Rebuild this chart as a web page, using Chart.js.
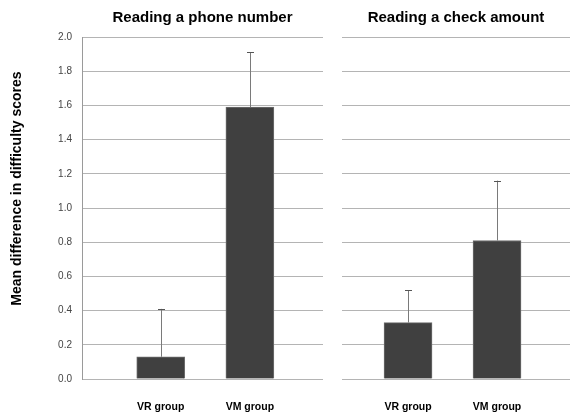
<!DOCTYPE html>
<html>
<head>
<meta charset="utf-8">
<script src="https://cdn.jsdelivr.net/npm/chart.js@4/dist/chart.umd.min.js"></script>
<style>
  body { margin: 0; background: #fff; }
  #wrap { position: relative; width: 570px; height: 414px; overflow: hidden; }
  canvas { position: absolute; top: 0; }
</style>
</head>
<body>
<div id="wrap">
  <canvas id="phoneChart" width="330" height="414" style="left:0"></canvas>
  <canvas id="checkChart" width="240" height="414" style="left:330px"></canvas>
</div>
<script>
// groups on the x axis, same for both panels
const groups = ['VR group', 'VM group'];

// mean difference in difficulty scores, with upward error bars
const phoneMeans = [0.13, 1.59];
const phoneErrors = [0.28, 0.32];
const checkMeans = [0.33, 0.81];
const checkErrors = [0.19, 0.35];

const yTicks = [0, 0.2, 0.4, 0.6, 0.8, 1.0, 1.2, 1.4, 1.6, 1.8, 2.0];

const FONT = 'Liberation Sans, Arial, sans-serif';

// draws a one-sided (upper) error bar on top of each bar
const errorBarPlugin = {
    id: 'errorBars',
    afterDatasetsDraw(chart, args, opts) {
        const ctx = chart.ctx;
        const yScale = chart.scales.y;
        const meta = chart.getDatasetMeta(0);
        const values = chart.data.datasets[0].data;
        meta.data.forEach((bar, i) => {
            const top = yScale.getPixelForValue(values[i].y + opts.errors[i]);
            ctx.save();
            ctx.strokeStyle = '#7a7a7a';
            ctx.lineWidth = 1;
            ctx.beginPath();
            ctx.moveTo(Math.round(bar.x) + 0.5, bar.y);
            ctx.lineTo(Math.round(bar.x) + 0.5, top);
            ctx.stroke();
            ctx.strokeStyle = '#555';
            ctx.beginPath();
            ctx.moveTo(Math.round(bar.x) - 3, Math.round(top) + 0.5);
            ctx.lineTo(Math.round(bar.x) + 4, Math.round(top) + 0.5);
            ctx.stroke();
            ctx.restore();
        });
    }
};

function buildPanel(canvasId, title, means, errors, xMin, withAxis) {
    return new Chart(document.getElementById(canvasId), {
        type: 'bar',
        data: {
            datasets: [{
                data: means.map((v, i) => ({ x: i + 1, y: v })),
                backgroundColor: '#404040',
                borderColor: '#6e6e6e',
                borderWidth: 1,
                barThickness: 48
            }]
        },
        plugins: [errorBarPlugin],
        options: {
            responsive: false,
            animation: false,
            layout: {
                padding: { left: withAxis ? 5 : 12, right: withAxis ? 7 : 0, top: 0, bottom: 0 }
            },
            plugins: {
                legend: { display: false },
                tooltip: { enabled: false },
                title: {
                    display: true,
                    text: title,
                    fullSize: false,
                    color: '#000',
                    font: { family: FONT, size: 15, weight: 'bold' },
                    padding: { top: 9, bottom: 10 }
                },
                errorBars: { errors: errors }
            },
            scales: {
                x: {
                    type: 'linear',
                    min: xMin,
                    max: 2.82,
                    offset: false,
                    grid: { display: false, drawTicks: false, offset: false },
                    border: { display: false },
                    afterBuildTicks: (scale) => {
                        scale.ticks = groups.map((g, i) => ({ value: i + 1 }));
                    },
                    afterFit: (scale) => { scale.height = 35; },
                    ticks: {
                        padding: 22,
                        color: '#000',
                        font: { family: FONT, size: 10.5, weight: 'bold' },
                        callback: (v) => groups[v - 1]
                    }
                },
                y: {
                    min: 0,
                    max: 2,
                    afterBuildTicks: (scale) => {
                        scale.ticks = yTicks.map(v => ({ value: v }));
                    },
                    afterFit: (scale) => { scale.width = withAxis ? 77 : 0; },
                    grid: { color: '#b4b4b4', drawTicks: false },
                    border: { display: withAxis, color: '#9a9a9a' },
                    ticks: {
                        display: withAxis,
                        padding: 10,
                        color: '#444',
                        font: { family: FONT, size: 10 },
                        callback: (v) => v.toFixed(1)
                    },
                    title: {
                        display: withAxis,
                        text: '          Mean difference in difficulty scores',
                        color: '#000',
                        font: { family: FONT, size: 14, weight: 'bold' },
                        padding: { top: 4, bottom: 0 }
                    }
                }
            }
        }
    });
}

buildPanel('phoneChart', 'Reading a phone number', phoneMeans, phoneErrors, 0.117, true);
buildPanel('checkChart', 'Reading a check amount', checkMeans, checkErrors, 0.258, false);
</script>
</body>
</html>
